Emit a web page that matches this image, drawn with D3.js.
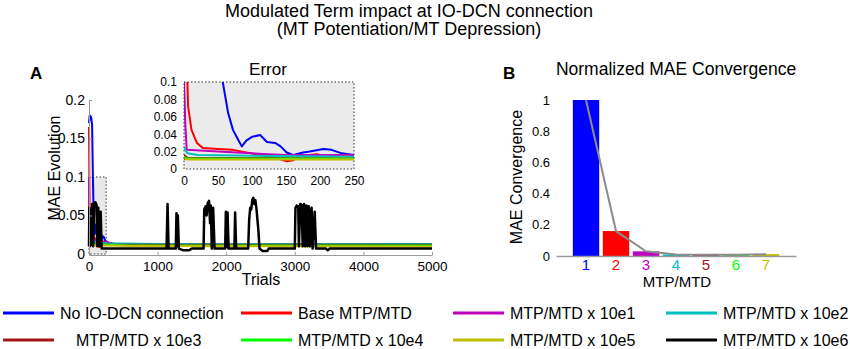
<!DOCTYPE html>
<html>
<head>
<meta charset="utf-8">
<script src="https://d3js.org/d3.v7.min.js"></script>
<style>
  body { margin: 0; background: #fff; }
  svg { font-family: "Liberation Sans", Arial, sans-serif; }
  .axis path, .axis line { stroke: #999; }
  .axis text { fill: #000; }
</style>
</head>
<body>
<div id="chart"></div>
<script>
// ---- data ----
const seriesNames = ["No IO-DCN connection", "Base MTP/MTD", "MTP/MTD x 10e1", "MTP/MTD x 10e2",
                     "MTP/MTD x 10e3", "MTP/MTD x 10e4", "MTP/MTD x 10e5", "MTP/MTD x 10e6"];
const seriesColors = ["#0000ff", "#ff0000", "#bf00bf", "#00bfbf", "#a31515", "#00ff00", "#bfbf00", "#000000"];

// [trial, MAE]
const blueMAE = [[0,0.17],[10,0.18],[30,0.178],[45,0.168],[52,0.13],[57,0.1],[65,0.064],[72,0.045],[80,0.033],
  [85,0.026],[92,0.033],[100,0.037],[112,0.039],[122,0.031],[134,0.03],[142,0.026],[151,0.019],[161,0.016],
  [175,0.019],[185,0.02],[205,0.023],[217,0.022],[232,0.018],[250,0.016],[300,0.013],[400,0.012],[800,0.0115],
  [1500,0.011],[2500,0.011],[3500,0.011],[4500,0.011],[5000,0.011]];
const redMAE = [[0,0.165],[3,0.13],[5,0.1],[6,0.072],[11,0.045],[19,0.03],[28,0.024],[50,0.023],[72,0.022],
  [112,0.016],[136,0.0125],[151,0.009],[161,0.01],[170,0.015],[195,0.017],[215,0.014],[225,0.016],[250,0.015],
  [400,0.012],[2000,0.012],[5000,0.012]];
const magentaMAE = [[0,0.1],[2,0.05],[4,0.022],[50,0.02],[147,0.016],[250,0.016],[320,0.014],[450,0.012],[5000,0.012]];
const cyanMAE = [[0,0.025],[5,0.018],[20,0.016],[250,0.014],[1000,0.013],[5000,0.013]];
const darkRedMAE = [[0,0.016],[5,0.013],[250,0.012],[5000,0.012]];
const greenMAE = [[0,0.014],[5,0.012],[250,0.012],[600,0.011],[5000,0.011]];
const oliveMAE = [[0,0.012],[5,0.011],[250,0.011],[600,0.0105],[5000,0.0098]];
const blackMAE = [[0,0.01],[5,0.06],[12,0.01],[20,0.055],[30,0.012],[45,0.065],[60,0.01],[75,0.066],[95,0.067],
  [110,0.064],[120,0.01],[135,0.06],[150,0.01],[170,0.055],[185,0.007],[250,0.007],[1000,0.007],[1130,0.007],
  [1145,0.065],[1160,0.007],[1265,0.007],[1275,0.053],[1285,0.01],[1295,0.05],[1310,0.007],[1370,0.005],
  [1460,0.005],[1500,0.007],[1670,0.007],[1680,0.058],[1700,0.062],[1715,0.05],[1730,0.066],[1750,0.069],
  [1765,0.04],[1775,0.063],[1790,0.007],[1810,0.06],[1830,0.007],[1985,0.007],[1995,0.055],[2005,0.009],
  [2020,0.054],[2035,0.007],[2120,0.007],[2130,0.054],[2145,0.007],[2320,0.007],[2335,0.045],[2350,0.06],
  [2365,0.058],[2380,0.07],[2395,0.073],[2410,0.065],[2425,0.07],[2440,0.06],[2455,0.045],[2470,0.03],
  [2485,0.007],[2530,0.004],[2600,0.004],[2620,0.007],[3000,0.007],[3010,0.06],[3030,0.063],[3050,0.062],
  [3060,0.01],[3080,0.065],[3100,0.064],[3115,0.01],[3135,0.065],[3150,0.01],[3170,0.063],[3185,0.01],
  [3205,0.062],[3220,0.01],[3245,0.06],[3260,0.007],[3290,0.055],[3310,0.007],[3450,0.007],[3480,0.005],
  [3510,0.007],[5000,0.007]];
// black run in the zoomed inset
const blackInset = [[0,0.0115],[250,0.0115]];

const mainSeries = [blueMAE, redMAE, magentaMAE, cyanMAE, darkRedMAE, greenMAE, oliveMAE, blackMAE];
const insetSeries = [blueMAE, redMAE, magentaMAE, cyanMAE, darkRedMAE, greenMAE, oliveMAE, blackInset];

const mainYTicks = [0, 0.05, 0.1, 0.15, 0.2];
const mainXTicks = [0, 1000, 2000, 3000, 4000, 5000];
const insetYTicks = [0, 0.02, 0.04, 0.06, 0.08, 0.1];
const insetXTicks = [0, 50, 100, 150, 200, 250];

const barCategories = [1, 2, 3, 4, 5, 6, 7];
const barValues = [1, 0.16, 0.03, 0.01, 0.008, 0.008, 0.012];
const barYTicks = [0, 0.2, 0.4, 0.6, 0.8, 1];

// ---- layout ----
const W = 850, H = 349;
const svg = d3.select("#chart").append("svg").attr("width", W).attr("height", H);

svg.append("text").attr("x", 409).attr("y", 17).attr("text-anchor", "middle")
  .style("font-size", "18px").text("Modulated Term impact at IO-DCN connection");
svg.append("text").attr("x", 409).attr("y", 35).attr("text-anchor", "middle")
  .style("font-size", "18px").text("(MT Potentiation/MT Depression)");

// ---- panel A ----
const x = d3.scaleLinear().domain([0, 5000]).range([89, 432]);
const y = d3.scaleLinear().domain([0, 0.2]).range([254, 100]);

svg.append("text").attr("x", 30).attr("y", 79).style("font-size", "17px").style("font-weight", "bold").text("A");

// zoom region marker
svg.append("rect")
  .attr("x", x(0)).attr("y", y(0.1)).attr("width", x(250) - x(0)).attr("height", y(0) - y(0.1))
  .attr("fill", "#e8e8e8").attr("stroke", "#333").attr("stroke-width", 1).attr("stroke-dasharray", "1.5,2");

const lineMain = d3.line().x(d => x(d[0])).y(d => y(d[1]));
mainSeries.forEach((s, i) => {
  svg.append("path").datum(s).attr("d", lineMain)
    .attr("fill", "none").attr("stroke", seriesColors[i])
    .attr("stroke-width", i === 7 ? 2.5 : 2).attr("stroke-linejoin", "round");
});

svg.append("g").attr("class", "axis").attr("transform", `translate(${x(0)},0)`)
  .call(d3.axisLeft(y).tickValues(mainYTicks).tickSizeInner(-3).tickSizeOuter(0).tickPadding(4)
    .tickFormat(d => +d.toFixed(2)))
  .call(g => g.selectAll("text").style("font-size", "14px"));
svg.append("g").attr("class", "axis").attr("transform", `translate(0,${y(0) + 1})`)
  .call(d3.axisBottom(x).tickValues(mainXTicks).tickSizeInner(-3).tickSizeOuter(0).tickPadding(6)
    .tickFormat(d3.format("d")))
  .call(g => g.selectAll("text").style("font-size", "13.5px"));

svg.append("text").attr("transform", "translate(60,168) rotate(-90)").attr("text-anchor", "middle")
  .style("font-size", "16px").text("MAE Evolution");
svg.append("text").attr("x", 261).attr("y", 285).attr("text-anchor", "middle")
  .style("font-size", "16px").text("Trials");

// ---- inset ----
const xi = d3.scaleLinear().domain([0, 250]).range([184, 354]);
const yi = d3.scaleLinear().domain([0, 0.1]).range([169, 82]);

svg.append("rect").attr("x", xi(0)).attr("y", yi(0.1)).attr("width", xi(250) - xi(0)).attr("height", yi(0) - yi(0.1))
  .attr("fill", "#ebebeb");
svg.append("clipPath").attr("id", "insetClip").append("rect")
  .attr("x", xi(0)).attr("y", yi(0.1)).attr("width", xi(250) - xi(0)).attr("height", yi(0) - yi(0.1));

const lineInset = d3.line().x(d => xi(d[0])).y(d => yi(d[1]));
const insetG = svg.append("g").attr("clip-path", "url(#insetClip)");
// black first so the flat run sits under the others
[7, 0, 1, 2, 3, 4, 5, 6].forEach(i => {
  insetG.append("path").datum(insetSeries[i].filter(d => d[0] <= 400)).attr("d", lineInset)
    .attr("fill", "none").attr("stroke", seriesColors[i]).attr("stroke-width", 2).attr("stroke-linejoin", "round");
});
svg.append("rect").attr("x", xi(0)).attr("y", yi(0.1)).attr("width", xi(250) - xi(0)).attr("height", yi(0) - yi(0.1))
  .attr("fill", "none").attr("stroke", "#333").attr("stroke-width", 1).attr("stroke-dasharray", "1.5,2");

svg.append("g").attr("transform", `translate(${xi(0)},0)`)
  .call(d3.axisLeft(yi).tickValues(insetYTicks).tickSize(0).tickPadding(7).tickFormat(d => +d.toFixed(2)))
  .call(g => g.select(".domain").remove())
  .call(g => g.selectAll("text").style("font-size", "12px"));
svg.append("g").attr("transform", `translate(0,${yi(0)})`)
  .call(d3.axisBottom(xi).tickValues(insetXTicks).tickSize(0).tickPadding(7))
  .call(g => g.select(".domain").remove())
  .call(g => g.selectAll("text").style("font-size", "12px"));
svg.append("text").attr("x", 268).attr("y", 75).attr("text-anchor", "middle")
  .style("font-size", "17px").text("Error");

// ---- panel B ----
const xb = d3.scaleLinear().domain([0, 8]).range([556, 796]);
const yb = d3.scaleLinear().domain([0, 1]).range([256, 100]);
const bw = 0.88;

svg.append("text").attr("x", 503).attr("y", 79).style("font-size", "17px").style("font-weight", "bold").text("B");
svg.append("text").attr("x", 676).attr("y", 75).attr("text-anchor", "middle")
  .style("font-size", "17.5px").text("Normalized MAE Convergence");

svg.selectAll(".bar").data(barValues).enter().append("rect")
  .attr("class", "bar")
  .attr("x", (d, i) => xb(barCategories[i] - bw / 2))
  .attr("y", d => yb(d))
  .attr("width", xb(bw) - xb(0))
  .attr("height", d => yb(0) - yb(d))
  .attr("fill", (d, i) => seriesColors[i]);

svg.append("path").datum(barValues)
  .attr("d", d3.line().x((d, i) => xb(barCategories[i])).y(d => yb(d)))
  .attr("fill", "none").attr("stroke", "#8c8c8c").attr("stroke-width", 2);

svg.append("g").attr("class", "axis").attr("transform", `translate(0,${yb(0)})`)
  .call(d3.axisBottom(xb).tickValues([]).tickSizeOuter(0))
  .call(g => g.select(".domain").attr("stroke-width", 1.5));
svg.selectAll(".catlab").data(barCategories).enter().append("text")
  .attr("class", "catlab").attr("x", d => xb(d)).attr("y", 270).attr("text-anchor", "middle")
  .style("font-size", "15px").attr("fill", (d, i) => seriesColors[i]).text(d => d);

svg.append("g").attr("transform", `translate(${xb(0)},0)`)
  .call(d3.axisLeft(yb).tickValues(barYTicks).tickSize(0).tickPadding(6).tickFormat(d => +d.toFixed(1)))
  .call(g => g.select(".domain").remove())
  .call(g => g.selectAll("text").style("font-size", "13px"));

svg.append("text").attr("transform", "translate(522,177) rotate(-90)").attr("text-anchor", "middle")
  .style("font-size", "16px").text("MAE Convergence");
svg.append("text").attr("x", 677).attr("y", 287).attr("text-anchor", "middle")
  .style("font-size", "15px").text("MTP/MTD");

// ---- legend ----
const legendCols = [3, 241, 453, 666];
const legendRows = [313, 340];
const legend = svg.append("g");
seriesNames.forEach((name, i) => {
  const cx = legendCols[i % 4], cy = legendRows[Math.floor(i / 4)];
  legend.append("line").attr("x1", cx).attr("x2", cx + 51).attr("y1", cy).attr("y2", cy)
    .attr("stroke", seriesColors[i]).attr("stroke-width", 3);
  legend.append("text").attr("x", i === 4 ? cx + 73 : cx + 57).attr("y", cy + 6)
    .style("font-size", "16px").text(name);
});
</script>
</body>
</html>
